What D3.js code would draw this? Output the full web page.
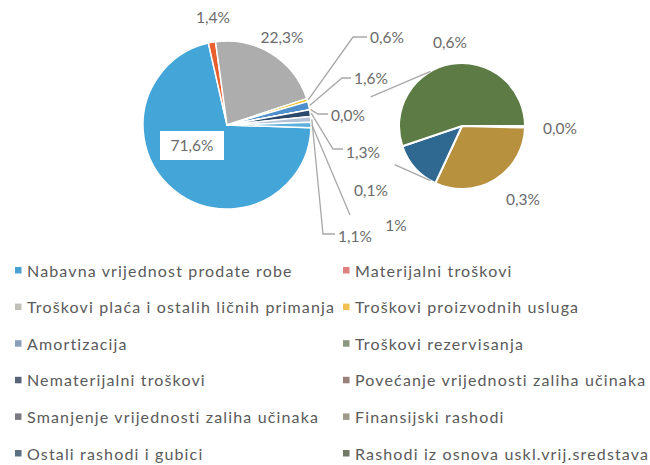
<!DOCTYPE html>
<html>
<head>
<meta charset="utf-8">
<script src="https://cdn.jsdelivr.net/npm/d3@7"></script>
<style>
  body { margin: 0; background: #fff; }
  text { font-family: Lato, "Open Sans", sans-serif; }
</style>
</head>
<body>
<svg id="chart" width="650" height="465"></svg>
<script>
// categories (legend order = series order)
var categories = [
  "Nabavna vrijednost prodate robe",
  "Materijalni troškovi",
  "Troškovi plaća i ostalih ličnih primanja",
  "Troškovi proizvodnih usluga",
  "Amortizacija",
  "Troškovi rezervisanja",
  "Nematerijalni troškovi",
  "Povećanje vrijednosti zaliha učinaka",
  "Smanjenje vrijednosti zaliha učinaka",
  "Finansijski rashodi",
  "Ostali rashodi i gubici",
  "Rashodi iz osnova uskl.vrij.sredstava"
];
// share in %
var values = [71.6, 1.4, 22.3, 0.6, 1.6, 0.02, 1.3, 1.1, 0.004, 0.32, 0.13, 0.56];
var SECONDARY = 4; // last 4 go to the small pie

var sliceColors = ["#44a5d8", "#e8602e", "#adadad", "#f4c030", "#4f8fcc", "#6f9f4a",
                   "#2d4a6a", "#b4c2d8", "#6a6a6a", "#b8913f", "#2f6890", "#5d7c45"];
var legendColors = ["#4aa0d0", "#e08080", "#c0c0b8", "#f0c050", "#8aa0b8", "#8a9880",
                    "#5a6478", "#9a8078", "#7a7a82", "#a09a88", "#5a7080", "#707868"];

var svg = d3.select("#chart");
var fmt = function(v){ return d3.format(".1f")(v).replace(".", ",") + "%"; };

///MAIN PIE
var M = {cx: 227, cy: 125, r: 84};
var S = {cx: 462, cy: 126, r: 63};

var nMain = values.length - SECONDARY;
var otherVal = d3.sum(values.slice(nMain));
var mainVals = values.slice(0, nMain).concat([otherVal]);
var total = d3.sum(mainVals);
var off = Math.PI/2 + (otherVal/total)*Math.PI; // other slice centred on 3 o'clock

var mainArcs = d3.pie().sort(null).startAngle(off).endAngle(off + 2*Math.PI)(mainVals);
var arc = d3.arc().innerRadius(0);

var gMain = svg.append("g").attr("transform", "translate(" + M.cx + "," + M.cy + ")");
gMain.selectAll("path")
  .data(mainArcs)
  .enter()
  .append("path")
  .attr("d", function(d){ return arc.outerRadius(M.r)(d); })
  .attr("fill", function(d, i){ return i < nMain ? sliceColors[i] : "#5bb0dc"; })
  .attr("stroke", "#fff")
  .attr("stroke-width", 1.5);

///SECONDARY PIE
var secVals = values.slice(nMain);
var secArcs = d3.pie().sort(null).startAngle(Math.PI/2).endAngle(Math.PI/2 + 2*Math.PI)(secVals);
var gSec = svg.append("g").attr("transform", "translate(" + S.cx + "," + S.cy + ")");
gSec.selectAll("path")
  .data(secArcs)
  .enter()
  .append("path")
  .attr("d", function(d){ return arc.outerRadius(S.r)(d); })
  .attr("fill", function(d, i){ return sliceColors[nMain + i]; })
  .attr("stroke", "#fff")
  .attr("stroke-width", 2);

function pt(c, a, r){ return [c.cx + r*Math.sin(a), c.cy - r*Math.cos(a)]; }

// series lines main -> secondary (only the outer part shows, rest hidden by labels)
var oth = mainArcs[nMain];
var series = [
  {a: pt(M, oth.startAngle, M.r), b: pt(S, -Math.PI/6, S.r), t: 0.5},
  {a: pt(M, oth.endAngle, M.r), b: pt(S, Math.PI + Math.PI/6, S.r), t: 0.7}
];
svg.selectAll("line.series")
  .data(series)
  .enter()
  .append("line")
  .attr("class", "series")
  .attr("x1", function(d){ return d3.interpolate(d.a, d.b)(d.t)[0]; })
  .attr("y1", function(d){ return d3.interpolate(d.a, d.b)(d.t)[1]; })
  .attr("x2", function(d){ return d.b[0]; })
  .attr("y2", function(d){ return d.b[1]; })
  .attr("stroke", "#a8a8a8")
  .attr("stroke-width", 1.3);

///LABELS
// label centres + leader elbows (layout only)
var mainLab = [
  {x: 192, y: 145, box: true},
  {x: 213, y: 17},
  {x: 282, y: 37},
  {x: 387, y: 37, elbow: [353, 37]},
  {x: 371, y: 78, elbow: [342, 78]},
  {x: 348, y: 115, elbow: [318, 114]},
  {x: 363, y: 152, elbow: [333, 149]},
  {x: 355, y: 236, elbow: [323, 234]},
  {x: 396, y: 225, elbow: [350, 215], diag: true}
];
var secLab = [
  {x: 560, y: 128},
  {x: 523, y: 199},
  {x: 371, y: 190},
  {x: 450, y: 42}
];

var labelData = mainArcs.map(function(d, i){
  var t = i < nMain ? fmt(d.data) : d3.format(".0f")(d.data) + "%";
  var mid = (d.startAngle + d.endAngle)/2;
  return Object.assign({text: t, start: pt(M, mid, M.r + 1)}, mainLab[i]);
}).concat(secArcs.map(function(d, i){
  return Object.assign({text: fmt(d.data)}, secLab[i]);
}));

var gLab = svg.append("g");
var lab = gLab.selectAll("g")
  .data(labelData)
  .enter()
  .append("g");

lab.filter(function(d){ return d.box; })
  .append("rect")
  .attr("x", function(d){ return d.x - 32; })
  .attr("y", function(d){ return d.y - 14; })
  .attr("width", 64)
  .attr("height", 29)
  .attr("fill", "#fff");

var txt = lab.append("text")
  .attr("x", function(d){ return d.x; })
  .attr("y", function(d){ return d.y; })
  .attr("text-anchor", "middle")
  .attr("dominant-baseline", "central")
  .attr("font-size", 15.5)
  .attr("fill", "#6b6b6b")
  .text(function(d){ return d.text; });

txt.each(function(d){ d.w = this.getComputedTextLength(); });

lab.filter(function(d){ return d.elbow; })
  .append("polyline")
  .attr("points", function(d){
    var p = [d.start, d.elbow];
    if(!d.diag) p.push([d.x - d.w/2 - 3, d.elbow[1]]);
    return p.map(function(q){ return q.join(","); }).join(" ");
  })
  .attr("fill", "none")
  .attr("stroke", "#a8a8a8")
  .attr("stroke-width", 1.3);

///LEGEND
var rowY = d3.scalePoint().domain(d3.range(6)).range([270, 453]);
var colX = [15, 343];
var leg = svg.append("g").selectAll("g")
  .data(categories)
  .enter()
  .append("g")
  .attr("transform", function(d, i){ return "translate(" + colX[i % 2] + "," + rowY(Math.floor(i/2)) + ")"; });

leg.append("rect")
  .attr("x", 0).attr("y", -3)
  .attr("width", 6.5).attr("height", 6.5)
  .attr("fill", function(d, i){ return legendColors[i]; });

leg.append("text")
  .attr("x", 12)
  .attr("y", 0)
  .attr("dominant-baseline", "central")
  .attr("font-size", 16)
  .attr("letter-spacing", 1.15)
  .attr("fill", "#5a5a5a")
  .text(function(d){ return d; });
</script>
</body>
</html>
